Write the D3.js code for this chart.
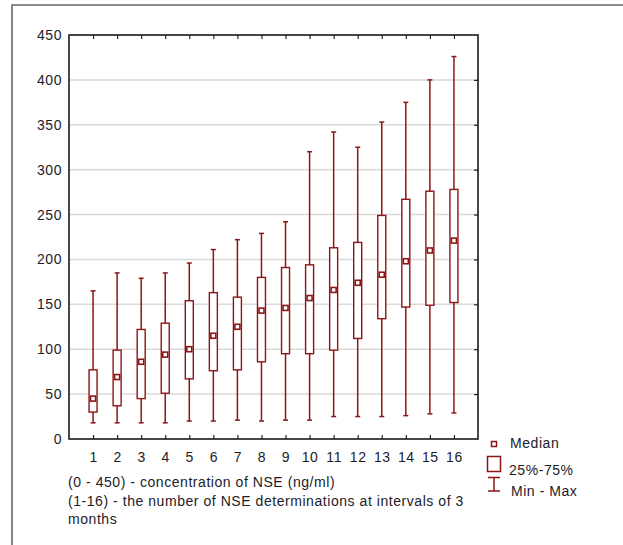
<!DOCTYPE html>
<html>
<head>
<meta charset="utf-8">
<script src="https://cdn.jsdelivr.net/npm/d3@7"></script>
<style>
  body { margin: 0; background: #fff; }
  svg text { font-family: "Liberation Sans", Arial, sans-serif; }
</style>
</head>
<body>
<div id="vis"></div>
<script>
// values (ng/ml)
var categories = [1, 2, 3, 4, 5, 6, 7, 8, 9, 10, 11, 12, 13, 14, 15, 16];
var mins    = [18, 18, 18, 18, 20, 20, 21, 20, 21, 21, 25, 25, 25, 26, 28, 29];
var q1s     = [30, 37, 45, 51, 67, 76, 77, 86, 95, 95, 99, 112, 134, 147, 149, 152];
var medians = [45, 69, 86, 94, 100, 115, 125, 143, 146, 157, 166, 174, 183, 198, 210, 221];
var q3s     = [77, 99, 122, 129, 154, 163, 158, 180, 191, 194, 213, 219, 249, 267, 276, 278];
var maxs    = [165, 185, 179, 185, 196, 211, 222, 229, 242, 320, 342, 325, 353, 375, 400, 426];
var yTicks = [0, 50, 100, 150, 200, 250, 300, 350, 400, 450];
var notes = [
  "(0 - 450) - concentration of NSE (ng/ml)",
  "(1-16) - the number of NSE determinations at intervals of 3",
  "months"
];

var red = "#8e1515";
var ink = "#1c1c28";
var spacing = "0.55px";

var svg = d3.select("#vis").append("svg")
  .attr("width", 623)
  .attr("height", 545);

// outer frame
svg.append("path")
  .attr("d", "M12,545 V5 H623")
  .attr("fill", "none")
  .attr("stroke", "#666")
  .attr("stroke-width", 1.6);

var pLeft = 69, pRight = 478, pTop = 35, pBottom = 439;

var x = d3.scaleLinear().domain([0, 17]).range([pLeft, pRight]);
var y = d3.scaleLinear().domain([0, 450]).range([pBottom, pTop]);

// grid
svg.append("g")
  .selectAll("line")
  .data(yTicks.filter(d => d > 0 && d < 450))
  .join("line")
  .attr("x1", pLeft).attr("x2", pRight)
  .attr("y1", d => y(d)).attr("y2", d => y(d))
  .attr("stroke", "#d9d9d9")
  .attr("stroke-width", 1.5);

function styleAxis(g) {
  g.select(".domain").remove();
  g.selectAll("line").attr("stroke", "#222").attr("stroke-width", 1.2);
  g.selectAll("text")
    .attr("fill", ink)
    .style("font-size", "14px")
    .style("letter-spacing", spacing)
    .style("font-family", '"Liberation Sans", Arial, sans-serif');
}

svg.append("g")
  .attr("transform", "translate(0," + pBottom + ")")
  .call(d3.axisBottom(x).tickValues(categories).tickSizeInner(-4).tickSizeOuter(0).tickPadding(13))
  .call(styleAxis);

svg.append("g")
  .attr("transform", "translate(0," + pTop + ")")
  .call(d3.axisTop(x).tickValues(categories).tickSizeInner(-4).tickSizeOuter(0).tickFormat(""))
  .call(styleAxis);

svg.append("g")
  .attr("transform", "translate(" + pLeft + ",0)")
  .call(d3.axisLeft(y).tickValues(yTicks).tickSizeInner(0).tickSizeOuter(0).tickPadding(7))
  .call(styleAxis);

svg.append("g")
  .attr("transform", "translate(" + pRight + ",0)")
  .call(d3.axisRight(y).tickValues(yTicks.filter(d => d > 0 && d < 450)).tickSizeInner(-4).tickSizeOuter(0).tickFormat(""))
  .call(styleAxis);

// plot frame
svg.append("rect")
  .attr("x", pLeft).attr("y", pTop)
  .attr("width", pRight - pLeft).attr("height", pBottom - pTop)
  .attr("fill", "none")
  .attr("stroke", "#1a1a1a")
  .attr("stroke-width", 1.6);

// boxes
var rows = categories.map((c, i) => ({
  c: c, min: mins[i], q1: q1s[i], med: medians[i], q3: q3s[i], max: maxs[i]
}));

var bw = 8, cap = 5, ms = 5;
var box = svg.append("g").selectAll("g").data(rows).join("g");

box.append("line")
  .attr("x1", d => x(d.c)).attr("x2", d => x(d.c))
  .attr("y1", d => y(d.min)).attr("y2", d => y(d.max))
  .attr("stroke", red).attr("stroke-width", 1.5);

box.append("line")
  .attr("x1", d => x(d.c) - cap / 2).attr("x2", d => x(d.c) + cap / 2)
  .attr("y1", d => y(d.max)).attr("y2", d => y(d.max))
  .attr("stroke", red).attr("stroke-width", 1.5);

box.append("line")
  .attr("x1", d => x(d.c) - cap / 2).attr("x2", d => x(d.c) + cap / 2)
  .attr("y1", d => y(d.min)).attr("y2", d => y(d.min))
  .attr("stroke", red).attr("stroke-width", 1.5);

box.append("rect")
  .attr("x", d => x(d.c) - bw / 2)
  .attr("y", d => y(d.q3))
  .attr("width", bw)
  .attr("height", d => y(d.q1) - y(d.q3))
  .attr("fill", "#fff")
  .attr("stroke", red).attr("stroke-width", 1.4);

box.append("rect")
  .attr("x", d => x(d.c) - ms / 2)
  .attr("y", d => y(d.med) - ms / 2)
  .attr("width", ms).attr("height", ms)
  .attr("fill", "#fff")
  .attr("stroke", red).attr("stroke-width", 1.6);

// notes under the chart
svg.append("g").selectAll("text")
  .data(notes)
  .join("text")
  .attr("x", 68)
  .attr("y", (d, i) => 487 + i * 18.5)
  .attr("fill", ink)
  .style("font-size", "14px")
  .style("letter-spacing", spacing)
  .text(d => d);

// legend
var lg = svg.append("g");
lg.append("rect")
  .attr("x", 491.5).attr("y", 441.5).attr("width", 5).attr("height", 5)
  .attr("fill", "#fff").attr("stroke", red).attr("stroke-width", 1.5);
lg.append("rect")
  .attr("x", 487.5).attr("y", 456.5).attr("width", 13).attr("height", 15)
  .attr("fill", "#fff").attr("stroke", red).attr("stroke-width", 1.5);
lg.append("path")
  .attr("d", "M488,477.5 H500 M494,477.5 V491 M488,491 H500")
  .attr("fill", "none").attr("stroke", red).attr("stroke-width", 1.5);

var legendText = [["Median", 510, 448], ["25%-75%", 509, 475], ["Min - Max", 511, 496]];
lg.selectAll("text")
  .data(legendText)
  .join("text")
  .attr("x", d => d[1]).attr("y", d => d[2])
  .attr("fill", ink)
  .style("font-size", "14px")
  .style("letter-spacing", spacing)
  .text(d => d[0]);
</script>
</body>
</html>
